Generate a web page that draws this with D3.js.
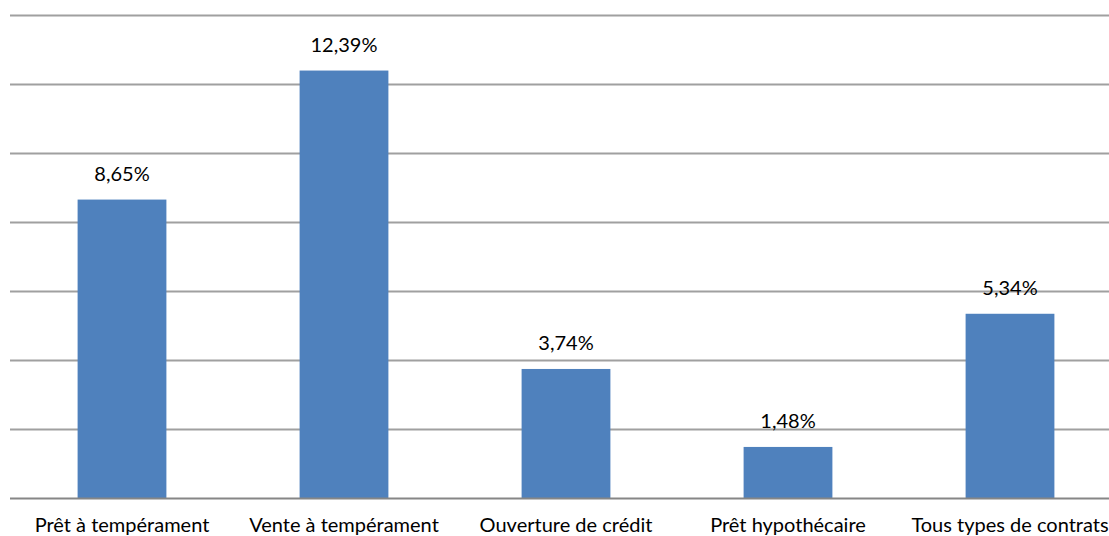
<!DOCTYPE html>
<html>
<head>
<meta charset="utf-8">
<script src="https://cdn.jsdelivr.net/npm/d3@7"></script>
<style>
  html, body { margin: 0; padding: 0; background: #fff; }
  svg { display: block; }
  text { font-family: Lato, "Open Sans", sans-serif; fill: #000; }
</style>
</head>
<body>
<svg id="chart" width="1109" height="536"></svg>
<script>
// Contract categories and their rates (%)
const categories = ["Prêt à tempérament", "Vente à tempérament", "Ouverture de crédit", "Prêt hypothécaire", "Tous types de contrats"];
const values = [8.65, 12.39, 3.74, 1.48, 5.34];
const gridTicks = [0, 2, 4, 6, 8, 10, 12, 14];

const svg = d3.select("#chart");
const W = 1109;
const plotLeft = 11, plotRight = 1121, plotTop = 15, plotBottom = 498;

const x = d3.scaleBand().domain(categories).range([plotLeft, plotRight]).paddingInner(0.6).paddingOuter(0.3);
const y = d3.scaleLinear().domain([0, 14]).range([plotBottom, plotTop]);

const fmt = v => d3.format(".2f")(v).replace(".", ",") + "%";

// horizontal gridlines
svg.append("g").selectAll("line").data(gridTicks.filter(d => d > 0)).join("line")
  .attr("x1", 10).attr("x2", W)
  .attr("y1", d => Math.round(y(d)) + 0.5).attr("y2", d => Math.round(y(d)) + 0.5)
  .attr("stroke", "#a0a0a0").attr("stroke-width", 2);

// bars
svg.append("g").selectAll("rect").data(values).join("rect")
  .attr("x", (d, i) => x(categories[i]))
  .attr("width", x.bandwidth())
  .attr("y", d => y(d))
  .attr("height", d => y(0) - y(d))
  .attr("fill", "#4f81bd");

// baseline
svg.append("line").attr("x1", 10).attr("x2", W)
  .attr("y1", Math.round(y(0)) + 0.5).attr("y2", Math.round(y(0)) + 0.5)
  .attr("stroke", "#868686").attr("stroke-width", 2);

// value labels
svg.append("g").selectAll("text").data(values).join("text")
  .attr("x", (d, i) => x(categories[i]) + x.bandwidth() / 2)
  .attr("y", d => y(d) - 19)
  .attr("text-anchor", "middle")
  .attr("font-size", 20)
  .text(d => fmt(d));

// category labels
svg.append("g").selectAll("text").data(categories).join("text")
  .attr("x", d => x(d) + x.bandwidth() / 2)
  .attr("y", 532)
  .attr("text-anchor", "middle")
  .attr("font-size", 20)
  .text(d => d);
</script>
</body>
</html>
